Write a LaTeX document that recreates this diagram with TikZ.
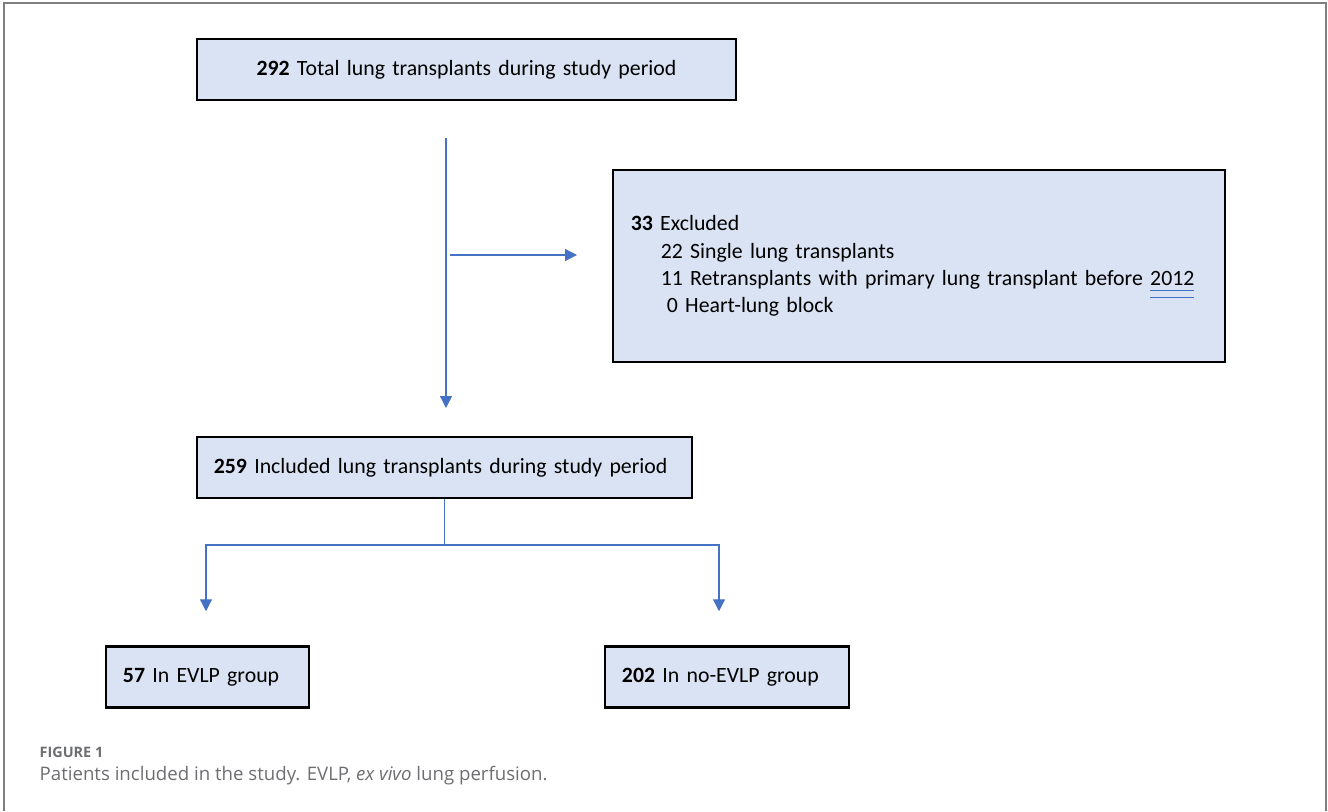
\documentclass[tikz,border=0pt]{standalone}
\usepackage{fontspec}
\setmainfont{Carlito}
\newfontfamily\capfont{Open Sans}
\usetikzlibrary{arrows.meta}
\definecolor{boxblue}{HTML}{DAE3F3}
\definecolor{linkblue}{HTML}{4472C4}
\definecolor{capgrey}{HTML}{6D6E71}
\definecolor{framegrey}{HTML}{7F7F7F}
\newcommand{\spellmark}[1]{\smash{{\color{linkblue}\underline{\underline{\color{black}#1}}}}}

\begin{document}
\begin{tikzpicture}[x=0.01cm,y=-0.01cm,
  countbox/.style={draw,line width=0.7pt,fill=boxblue,inner xsep=0.17cm,inner ysep=0pt,
    minimum height=0.61cm,align=left,font=\fontsize{6.2}{7.75}\selectfont},
  flowline/.style={linkblue,line width=0.35pt},
  flow/.style={flowline,-{Triangle[length=3.4pt,width=3.4pt]}},
  caption/.style={anchor=base west,inner sep=0pt,text=capgrey}]
\useasboundingbox (0,0) rectangle (1328,811);
\draw[framegrey,line width=0.6pt] (4,811)--(4,3)--(1326,3)--(1326,811);
\foreach \n/\x/\y in {trunk/446/138,cut/446/408,side/450/255,tip/577/255,fork/444.5/545}{\coordinate (\n) at (\x,\y);}
\node[countbox,text width=5.05cm,align=center] (total) at (466.5,69.5) {\textbf{292} Total lung transplants during study period};
\node[countbox,inner xsep=0.18cm,text width=5.76cm,minimum height=1.92cm] (excl) at (919,266) {\textbf{33} Excluded\\
\hspace*{0.30cm}22 Single lung transplants\\
\hspace*{0.30cm}11 Retransplants with primary lung transplant before \spellmark{2012}\\
\hspace*{0.36cm}0 Heart-lung block};
\node[countbox,text width=4.61cm] (incl) at (444.5,467.5) {\textbf{259} Included lung transplants during study period};
\node[countbox,text width=1.69cm] (evlp) at (207.5,677) {\textbf{57} In EVLP group};
\node[countbox,text width=2.10cm] (noevlp) at (727,677) {\textbf{202} In no-EVLP group};
\coordinate (endl) at ([yshift=0.34cm]evlp.north -| 206,0);
\coordinate (endr) at ([yshift=0.34cm]noevlp.north -| 719,0);
\draw[flow] (trunk) -- (cut);
\draw[flow] (side) -- (tip);
\draw[flowline] (incl.south) -- (fork);
\draw[flow] (fork) -| (endl);
\draw[flow] (fork) -| (endr);
\node[caption,font=\capfont\bfseries\fontsize{4.1}{4.9}\selectfont] (fignum) at (39,757) {FIGURE 1};
\node[caption,font=\capfont\fontsize{5.3}{6.3}\selectfont] (figtext) at (39,780) {Patients included in the study. EVLP, \textit{ex vivo} lung perfusion.};
\end{tikzpicture}
\end{document}
